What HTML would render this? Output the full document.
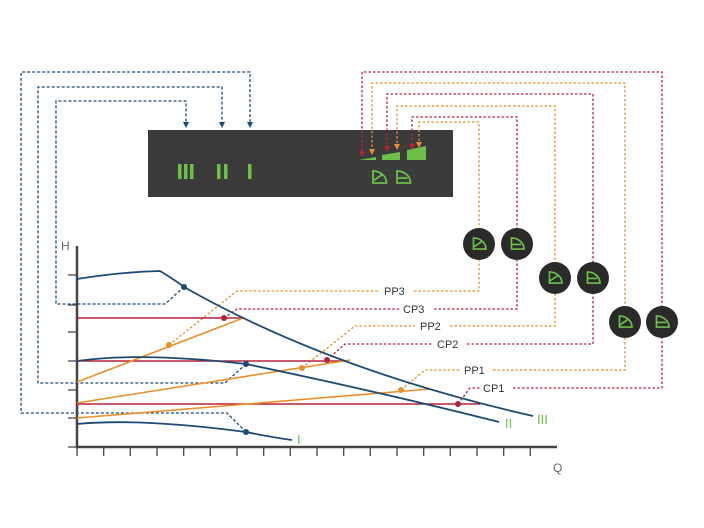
<!DOCTYPE html>
<html><head><meta charset="utf-8"><style>
html,body{margin:0;padding:0;background:#fff;}
svg{display:block;}
text{font-family:"Liberation Sans",sans-serif;}
</style></head><body>
<svg width="704" height="528" viewBox="0 0 704 528" xmlns="http://www.w3.org/2000/svg">
<defs>
<symbol id="pp" viewBox="0 0 16 14"><path d="M1.5,1 L1.5,13 L15,13 A13.5,12 0 0 0 1.5,1 Z" fill="none" stroke="#6cc04a" stroke-width="1.8"/><path d="M1.5,11 L11,4.5" stroke="#6cc04a" stroke-width="1.8"/></symbol>
<symbol id="cp" viewBox="0 0 16 14"><path d="M1.5,1 L1.5,13 L15,13 A13.5,12 0 0 0 1.5,1 Z" fill="none" stroke="#6cc04a" stroke-width="1.8"/><path d="M1.5,8 L12,8" stroke="#6cc04a" stroke-width="1.8"/></symbol>
</defs>

<!-- box -->
<rect x="148" y="130" width="305" height="67" fill="#3b3b3b"/>

<!-- blue dashed leaders -->
<g fill="none" stroke="#1c4a74" stroke-width="1.3" stroke-dasharray="3,2">
<path d="M184,287 L165,304 L56,304 L56,101 L186,101 L186,124"/>
<path d="M246,364 L225,383 L38,383 L38,87 L222,87 L222,124"/>
<path d="M246,432 L227,413 L21,413 L21,72 L250,72 L250,124"/>
</g>
<g fill="#1c4a74">
<path d="M183,122 L189,122 L186,128 Z"/><path d="M219,122 L225,122 L222,128 Z"/><path d="M247,122 L253,122 L250,128 Z"/>
</g>

<!-- red/orange dashed leaders -->
<g fill="none" stroke-width="1.3" stroke-dasharray="2.5,2">
<path stroke="#e8902a" d="M169,345 L237,291 L380,291 M414,291 L479,291 L479,122 L419,122 L419,142"/>
<path stroke="#b5213a" d="M224,318 L237,309 L400,309 M434,309 L517,309 L517,117 L412,117 L412,144"/>
<path stroke="#e8902a" d="M302,368 L355,326 L415,326 M450,326 L555,326 L555,106 L397,106 L397,144"/>
<path stroke="#b5213a" d="M327,360 L345,344 L432,344 M467,344 L593,344 L593,94 L387,94 L387,146"/>
<path stroke="#e8902a" d="M401,390 L425,370 L460,370 M493,370 L625,370 L625,83 L372,83 L372,149"/>
<path stroke="#b5213a" d="M458,404 L470,388 L480,388 M513,388 L662,388 L662,72 L362,72 L362,151"/>
</g>

<g fill="#6cc04a">
<rect x="178" y="164" width="3.5" height="15"/><rect x="184" y="164" width="3.5" height="15"/><rect x="190" y="164" width="3.5" height="15"/>
<rect x="217" y="164" width="3.5" height="15"/><rect x="224" y="164" width="3.5" height="15"/>
<rect x="248" y="164" width="3.5" height="15"/>
<path d="M359,160 L376,157 L376,160 Z"/>
<path d="M382,160 L382,155 L400,152 L400,160 Z"/>
<path d="M407,160 L407,150 L426,146 L426,160 Z"/>
</g>
<g fill="#b5213a"><path d="M359,151 L365,151 L362,157 Z"/><path d="M384,146 L390,146 L387,152 Z"/><path d="M409,144 L415,144 L412,150 Z"/></g>
<g fill="#e8902a"><path d="M369,149 L375,149 L372,155 Z"/><path d="M394,144 L400,144 L397,150 Z"/><path d="M416,142 L422,142 L419,148 Z"/></g>
<use href="#pp" x="371" y="170" width="17" height="14"/>
<use href="#cp" x="395" y="170" width="17" height="14"/>

<!-- circles -->
<g fill="#2a2a2a">
<circle cx="479" cy="244" r="16"/><circle cx="517" cy="244" r="16"/>
<circle cx="555" cy="278" r="16"/><circle cx="593" cy="278" r="16"/>
<circle cx="625" cy="322" r="16"/><circle cx="662" cy="322" r="16"/>
</g>
<use href="#pp" x="472" y="237" width="15" height="13"/><use href="#cp" x="510" y="237" width="15" height="13"/>
<use href="#pp" x="548" y="271" width="15" height="13"/><use href="#cp" x="586" y="271" width="15" height="13"/>
<use href="#pp" x="618" y="315" width="15" height="13"/><use href="#cp" x="655" y="315" width="15" height="13"/>

<!-- labels -->
<g font-size="11" fill="#333">
<text x="384" y="295">PP3</text>
<text x="403" y="313">CP3</text>
<text x="420" y="330">PP2</text>
<text x="437" y="348">CP2</text>
<text x="464" y="374">PP1</text>
<text x="483" y="392">CP1</text>
<text x="61" y="250" font-size="12" fill="#666">H</text>
<text x="553" y="472" font-size="12" fill="#666">Q</text>
</g>
<g font-size="13" fill="#6cc04a">
<text x="537" y="424">III</text>
<text x="505" y="428">II</text>
<text x="297" y="444">I</text>
</g>

<!-- axes -->
<g stroke="#444" stroke-width="1.3">
<path d="M68,275 H77 M68,305 H77 M68,332 H77 M68,361 H77 M68,390 H77 M68,418 H77 M68,447 H77"/>
<path d="M77,447 V456 M103.7,447 V456 M130.3,447 V456 M157,447 V456 M183.7,447 V456 M210.3,447 V456 M237,447 V456 M263.7,447 V456 M290.3,447 V456 M317,447 V456 M343.7,447 V456 M370.3,447 V456 M397,447 V456 M423.7,447 V456 M450.3,447 V456 M477,447 V456 M503.7,447 V456 M530.3,447 V456"/>
</g>
<path d="M77,246 V447 H557" fill="none" stroke="#444" stroke-width="2.5"/>

<!-- red lines -->
<g stroke="#b5213a" stroke-width="1.6">
<path d="M77,318 H244"/><path d="M77,361 H348"/><path d="M77,404 H480"/>
</g>
<!-- orange lines -->
<g stroke="#e8902a" stroke-width="1.6">
<path d="M77,382 L243,318"/><path d="M77,403 L350,360"/><path d="M77,418 L430,389"/>
</g>
<!-- blue curves -->
<g fill="none" stroke="#1c4a74" stroke-width="1.8">
<path d="M77,279 Q120,272 160,271 Q175,280 184,287 Q330,370 533,416"/>
<path d="M77,361 Q140,352 246,364 Q380,392 499,422"/>
<path d="M77,424 Q140,418 246,432 Q270,437 292,440"/>
</g>
<!-- dots -->
<g>
<circle cx="184" cy="287" r="3" fill="#1c4a74"/><circle cx="246" cy="364" r="3" fill="#1c4a74"/><circle cx="246" cy="432" r="3" fill="#1c4a74"/>
<circle cx="224" cy="318" r="3" fill="#b5213a"/><circle cx="327" cy="360" r="3" fill="#b5213a"/><circle cx="458" cy="404" r="3" fill="#b5213a"/>
<circle cx="169" cy="345" r="3" fill="#e8902a"/><circle cx="302" cy="368" r="3" fill="#e8902a"/><circle cx="401" cy="390" r="3" fill="#e8902a"/>
</g>
</svg>
</body></html>
